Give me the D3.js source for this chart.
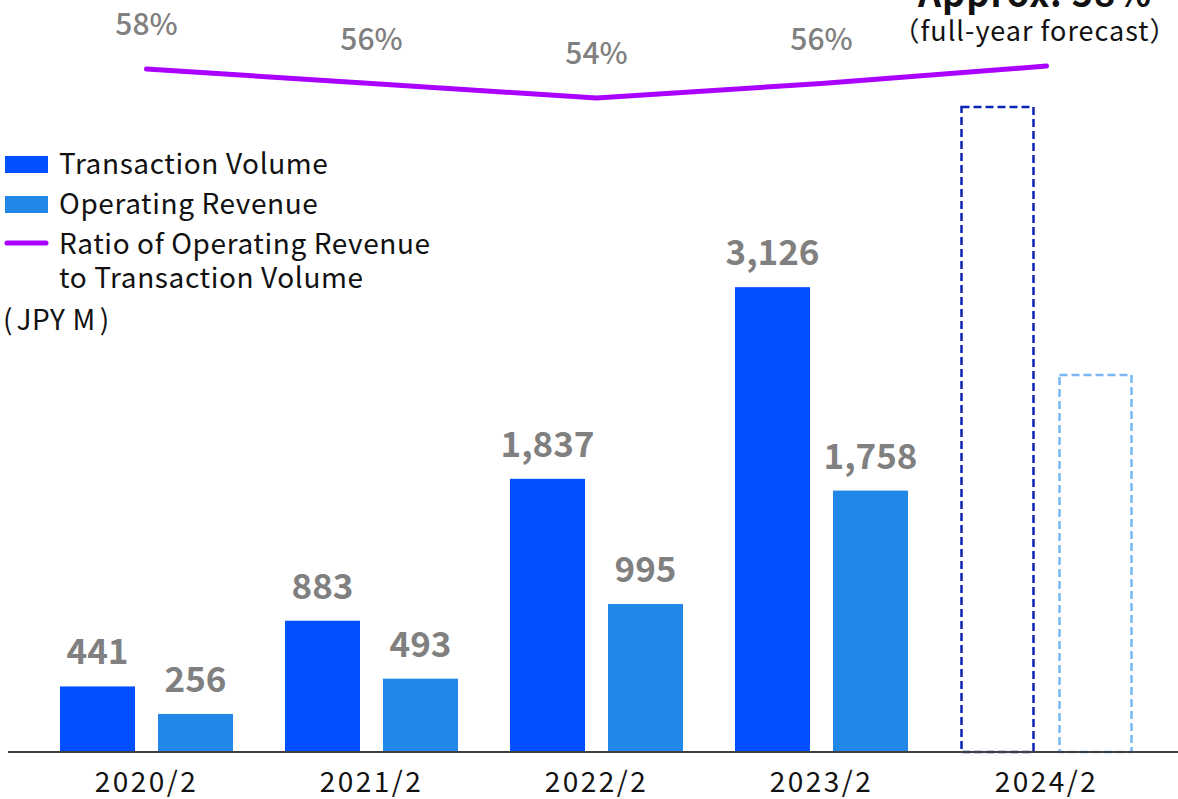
<!DOCTYPE html>
<html>
<head>
<meta charset="utf-8">
<script src="https://cdn.jsdelivr.net/npm/d3@7"></script>
<style>
  body { margin: 0; background: #fff; }
  svg { display: block; font-family: "Noto Sans CJK JP", "Noto Sans", sans-serif; }
</style>
</head>
<body>
<svg id="chart" width="1178" height="799"></svg>
<script>
// ---- Data ----
const years = ["2020/2", "2021/2", "2022/2", "2023/2", "2024/2"];
const transactionVolume = [441, 883, 1837, 3126, 4337];
const operatingRevenue = [256, 493, 995, 1758, 2535];
const ratio = [58, 56, 54, 56, 58.4];
const ratioLabels = ["58%", "56%", "54%", "56%"];
const forecast = [false, false, false, false, true];

// ---- Layout ----
const width = 1178, height = 799;
const baseY = 752;
const svg = d3.select("#chart");

const x0 = d3.scaleBand().domain(years).range([34, 1159]);
const x1 = d3.scaleBand().domain(["tv", "or"]).range([26, 199]).paddingInner(0.2347);
const y = d3.scaleLinear().domain([0, 5000]).range([baseY, 8.5]);
const yPct = d3.scaleLinear().domain([54, 58]).range([98, 69]);

const colors = { tv: "#0050ff", or: "#2288e8" };
const dashColors = { tv: "#0a24b4", or: "#7ab8f5" };

const rows = years.map((yr, i) => ({
  year: yr, tv: transactionVolume[i], or: operatingRevenue[i], ratio: ratio[i], forecast: forecast[i]
}));

// ---- Bars ----
const group = svg.selectAll("g.year").data(rows).enter().append("g")
  .attr("class", "year")
  .attr("transform", d => `translate(${x0(d.year)},0)`);

["tv", "or"].forEach(key => {
  group.filter(d => !d.forecast).append("rect")
    .attr("x", x1(key))
    .attr("y", d => y(d[key]))
    .attr("width", x1.bandwidth())
    .attr("height", d => baseY - y(d[key]))
    .attr("fill", colors[key]);

  // forecast year: dashed empty boxes
  group.filter(d => d.forecast).append("rect")
    .attr("x", x1(key) + 1.5)
    .attr("y", d => y(d[key]))
    .attr("width", x1.bandwidth() - 3)
    .attr("height", d => baseY - y(d[key]))
    .attr("fill", "none")
    .attr("stroke", dashColors[key])
    .attr("stroke-width", 2.5)
    .attr("stroke-dasharray", "8,4");

  group.filter(d => !d.forecast).append("text")
    .attr("x", x1(key) + x1.bandwidth() / 2)
    .attr("y", d => y(d[key]) - 22)
    .attr("text-anchor", "middle")
    .attr("font-size", 35)
    .attr("font-weight", "bold")
    .attr("fill", "#808080")
    .text(d => d3.format(",")(d[key]));
});

// ---- Axis ----
svg.append("line")
  .attr("x1", 8).attr("x2", width)
  .attr("y1", baseY).attr("y2", baseY)
  .attr("stroke", "#404040").attr("stroke-width", 2);

const xAxis = d3.axisBottom(x0).tickSize(0).tickPadding(0);
const axisG = svg.append("g").attr("transform", `translate(0,${baseY})`).call(xAxis);
axisG.select(".domain").remove();
axisG.selectAll("text")
  .attr("y", 40).attr("dy", 0)
  .attr("font-size", 28)
  .attr("letter-spacing", 2.5)
  .attr("font-family", "\"Noto Sans CJK JP\", sans-serif")
  .attr("fill", "#111");

// ---- Ratio line ----
const cx = d => x0(d.year) + x0.bandwidth() / 2;
svg.append("path")
  .datum(rows)
  .attr("fill", "none")
  .attr("stroke", "#aa00ff")
  .attr("stroke-width", 5)
  .attr("stroke-linecap", "round")
  .attr("d", d3.line().x(cx).y(d => yPct(d.ratio)));

svg.selectAll("text.pct").data(rows.slice(0, ratioLabels.length)).enter().append("text")
  .attr("class", "pct")
  .attr("x", cx)
  .attr("y", d => yPct(d.ratio) - 34)
  .attr("text-anchor", "middle")
  .attr("font-size", 30)
  .attr("font-weight", 500)
  .attr("fill", "#808080")
  .text((d, i) => ratioLabels[i]);

// forecast note (top is clipped in the original)
svg.append("text")
  .attr("x", 1035).attr("y", 7)
  .attr("text-anchor", "middle")
  .attr("font-size", 36).attr("font-weight", "bold")
  .attr("letter-spacing", 1)
  .attr("fill", "#111")
  .text("Approx. 58%");
svg.append("text")
  .attr("x", 1035).attr("y", 41)
  .attr("text-anchor", "middle")
  .attr("font-size", 27)
  .attr("letter-spacing", 1)
  .attr("fill", "#111")
  .text("（full-year forecast）");

// ---- Legend ----
const legend = svg.append("g").attr("font-size", 28).attr("letter-spacing", 0.6).attr("fill", "#111");
legend.append("rect").attr("x", 5).attr("y", 156).attr("width", 43).attr("height", 17).attr("fill", colors.tv);
legend.append("text").attr("x", 59).attr("y", 174).text("Transaction Volume");
legend.append("rect").attr("x", 5).attr("y", 196).attr("width", 43).attr("height", 17).attr("fill", colors.or);
legend.append("text").attr("x", 59).attr("y", 214).text("Operating Revenue");
legend.append("line").attr("x1", 7).attr("x2", 46).attr("y1", 243).attr("y2", 243)
  .attr("stroke", "#aa00ff").attr("stroke-width", 5).attr("stroke-linecap", "round");
legend.append("text").attr("x", 59).attr("y", 254).text("Ratio of Operating Revenue");
legend.append("text").attr("x", 59).attr("y", 288).text("to Transaction Volume");
const unit = legend.append("text").attr("x", 3).attr("y", 330);
unit.append("tspan").text("(");
unit.append("tspan").attr("dx", 4).text("JPY M");
unit.append("tspan").attr("dx", 4).text(")");
</script>
</body>
</html>
